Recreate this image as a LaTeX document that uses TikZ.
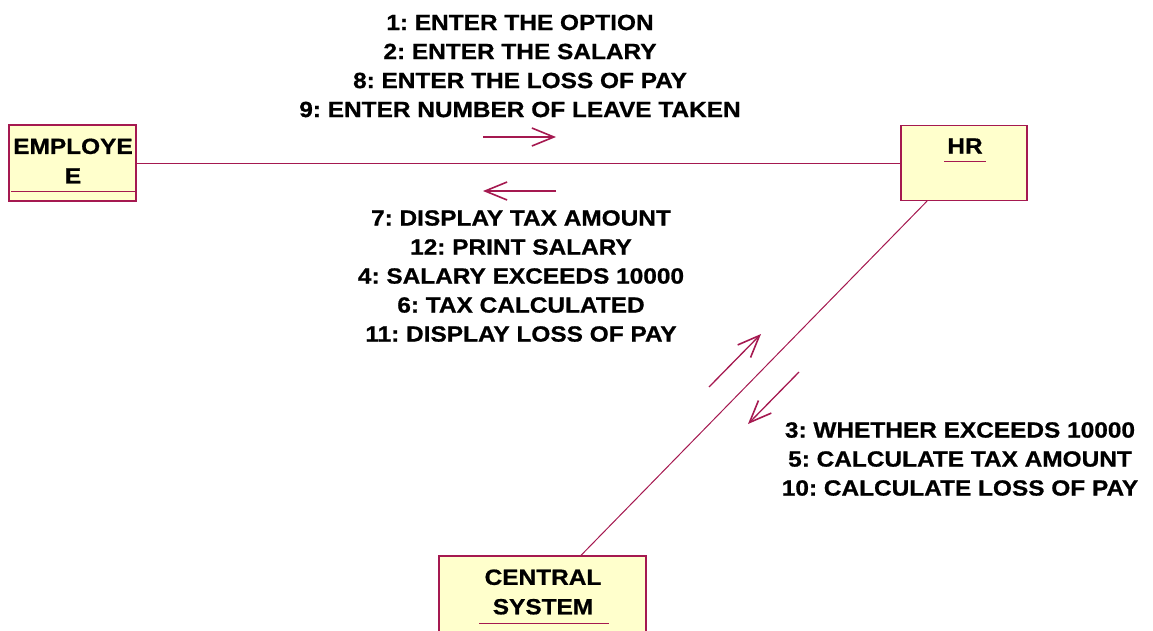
\documentclass[tikz,border=0pt]{standalone}
\usepackage{fontspec}
\newfontfamily\lblfont{Liberation Sans Bold}[FakeStretch=1.11, FakeBold=0.8]
\usetikzlibrary{arrows.meta}
\definecolor{umlline}{RGB}{165,25,80}
\definecolor{umlfill}{RGB}{255,255,204}
\tikzset{
  objbox/.style={draw=umlline, fill=umlfill, line width=1.1pt, inner sep=0pt},
  objtxt/.style={font=\fontsize{22}{29.5}\lblfont\frenchspacing, align=center, inner sep=0pt},
  lbl/.style={font=\fontsize{22}{29}\lblfont\frenchspacing, align=center, inner sep=0pt},
  link/.style={draw=umlline, line width=1pt},
  msg/.style={draw=umlline, line width=1.3pt, -{Straight Barb[length=22pt,width=18pt,line width=1.6pt]}},
  uline/.style={draw=umlline, line width=1pt}
}
\begin{document}
\begin{tikzpicture}[x=1pt,y=-1pt]
\useasboundingbox (0,0) rectangle (1153,630);
% objects
\node[objbox, minimum width=127pt, minimum height=76pt] (emp) at (72.5,163) {};
\node[objbox, minimum width=126pt, minimum height=75pt] (hr) at (964,163) {};
\node[objbox, minimum width=207pt, minimum height=78pt] (cs) at (542.5,595) {};
% object names
\node[objtxt] (empT) at (73,161) {EMPLOYE\\E};
\node[objtxt] (hrT) at (965,146) {HR};
\node[objtxt] (csT) at (543,592) {CENTRAL\\SYSTEM};
% underlines
\draw[uline] (11,191) coordinate (eu1) -- (137,191) coordinate (eu2);
\draw[uline] (944,161) coordinate (hu1) -- (986,161) coordinate (hu2);
\draw[uline] (479,623) coordinate (cu1) -- (609,623) coordinate (cu2);
% links
\draw[link] (emp) -- (hr);
\draw[link] (hr) -- (cs);
% message arrows
\coordinate (a1s) at (483,137); \coordinate (a1e) at (556,137);
\coordinate (a2s) at (556,191); \coordinate (a2e) at (483,191);
\coordinate (a3s) at (709,387); \coordinate (a3e) at (761,334);
\coordinate (a4s) at (799,372); \coordinate (a4e) at (748,424);
\draw[msg] (a1s) -- (a1e);
\draw[msg] (a2s) -- (a2e);
\draw[msg] (a3s) -- (a3e);
\draw[msg] (a4s) -- (a4e);
% labels
\node[lbl] (L1) at (520,66) {1: ENTER THE OPTION\\2: ENTER THE SALARY\\8: ENTER THE LOSS OF PAY\\9: ENTER NUMBER OF LEAVE TAKEN};
\node[lbl] (L2) at (521,276) {7: DISPLAY TAX AMOUNT\\12: PRINT SALARY\\4: SALARY EXCEEDS 10000\\6: TAX CALCULATED\\11: DISPLAY LOSS OF PAY};
\node[lbl] (L3) at (960,459) {3: WHETHER EXCEEDS 10000\\5: CALCULATE TAX AMOUNT\\10: CALCULATE LOSS OF PAY};
\end{tikzpicture}
\end{document}
